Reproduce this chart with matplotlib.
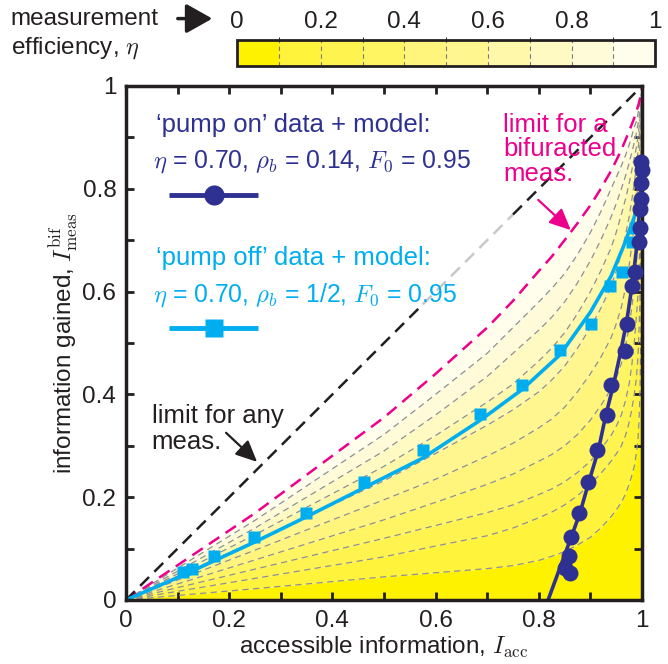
import numpy as np
import matplotlib
matplotlib.use("Agg")
import matplotlib.pyplot as plt
from matplotlib.colors import ListedColormap, BoundaryNorm
from matplotlib.cm import ScalarMappable
from matplotlib.patches import FancyArrowPatch

plt.rcParams["font.family"] = ["Liberation Sans", "DejaVu Sans"]
plt.rcParams["mathtext.fontset"] = "cm"

# iso-efficiency curves on a shared I_acc grid: eta = 0.1 ... 0.9, and eta = 1 (bifurcation limit)
iso_x = [0, .25, .5, .6, .7, .75, .8, .825, .85, .875, .9, .92, .94, .95, .96, .968,
         .975, .98, .985, .989, .992, .994, .996, .998, .999, 1]
iso_y_01 = [0, .022, .045, .053, .061, .067, .077, .085, .094, .107, .122, .14, .162,
            .175, .19, .206, .225, .241, .26, .285, .31, .345, .40, .52, .65, 1]
iso_y_02 = [0, .042, .084, .105, .125, .14, .16, .171, .185, .203, .225, .246, .27,
            .284, .30, .32, .345, .37, .40, .43, .47, .52, .58, .72, .80, 1]
iso_y_03 = [0, .06, .12, .145, .17, .185, .205, .216, .23, .248, .27, .293, .32,
            .338, .36, .388, .42, .455, .50, .55, .59, .64, .70, .81, .88, 1]
iso_y_04 = [0, .078, .156, .19, .225, .245, .27, .283, .30, .322, .35, .378, .41,
            .432, .46, .495, .53, .568, .61, .655, .70, .745, .80, .88, .93, 1]
iso_y_05 = [0, .097, .195, .235, .28, .305, .335, .352, .375, .405, .44, .472, .51,
            .537, .57, .607, .65, .688, .73, .775, .81, .845, .885, .937, .96, 1]
iso_y_06 = [0, .115, .232, .285, .34, .37, .405, .428, .455, .49, .53, .567, .61,
            .64, .675, .71, .745, .777, .81, .843, .87, .895, .92, .953, .97, 1]
iso_y_07 = [0, .127, .26, .32, .385, .42, .465, .49, .52, .557, .60, .64, .685,
            .715, .75, .78, .81, .835, .86, .88, .90, .917, .935, .962, .975, 1]
iso_y_08 = [0, .14, .29, .36, .435, .48, .525, .55, .58, .617, .66, .70, .745,
            .771, .80, .825, .85, .87, .89, .907, .925, .937, .95, .97, .98, 1]
iso_y_09 = [0, .155, .322, .40, .48, .53, .58, .606, .635, .672, .715, .755, .80,
            .822, .845, .865, .885, .902, .92, .931, .945, .955, .965, .978, .985, 1]
bif_y = [0, .169, .355, .44, .53, .582, .64, .668, .70, .733, .768, .80, .835,
         .855, .876, .895, .912, .925, .938, .95, .96, .967, .975, .985, .99, 1]

# 'pump on' data and model
pump_on_x = [.851, .860, .859, .862, .878, .895, .912, .932, .939, .967, .970,
             .980, .986, .995, .996, .997, .998, .999, 1.0, .999]
pump_on_y = [.062, .053, .086, .122, .170, .230, .292, .360, .418, .485, .537,
             .610, .639, .696, .723, .760, .781, .811, .837, .853]
pump_on_fit_x = [.818, .84, .862, .88, .897, .915, .93, .945, .958, .97, .982, .99, .996, 1.0]
pump_on_fit_y = [0, .06, .12, .17, .23, .29, .36, .42, .48, .54, .62, .69, .77, .86]

# 'pump off' data and model
pump_off_x = [.110, .128, .171, .249, .349, .462, .575, .687, .767, .841, .902,
              .938, .961, .980, .986]
pump_off_y = [.055, .060, .086, .122, .170, .230, .292, .361, .418, .486, .537,
              .610, .639, .696, .723]
pump_off_fit_x = [0, .11, .25, .35, .5, .575, .687, .767, .841, .90, .94, .965, .985, .996]
pump_off_fit_y = [0, .048, .113, .162, .238, .276, .350, .409, .477, .56, .63, .69, .745, .79]

eta_bounds = [0, .1, .2, .3, .4, .5, .6, .7, .8, .9, 1]
eta_ticks = [0, 0.2, 0.4, 0.6, 0.8, 1]
eta_tick_labels = ["0", "0.2", "0.4", "0.6", "0.8", "1"]
axis_ticks = [0, .1, .2, .3, .4, .5, .6, .7, .8, .9, 1]
axis_tick_labels = ["0", "", "0.2", "", "0.4", "", "0.6", "", "0.8", "", "1"]

band_colors = ["#fff200", "#fff33c", "#fff34f", "#fff462", "#fff57c",
               "#fff690", "#fff8aa", "#fffac2", "#fffbd9", "#fffdeb"]
TEXT = "#231f20"
ON = "#2e3192"
OFF = "#00aeef"
MAG = "#ec008c"

fig = plt.figure(figsize=(6.68, 6.64), dpi=100)
ax = fig.add_axes([0.1886, 0.0964, 0.7725, 0.7741])

curves = [iso_y_01, iso_y_02, iso_y_03, iso_y_04, iso_y_05,
          iso_y_06, iso_y_07, iso_y_08, iso_y_09, bif_y]

# shade each efficiency band between neighbouring curves
lower = [0] * len(iso_x)
for k, cy in enumerate(curves):
    ax.fill_between(iso_x, lower, cy, color=band_colors[k], lw=0, zorder=1)
    lower = cy

for cy in curves[:-1]:
    ax.plot(iso_x, cy, color="#8f8f8f", lw=0.9, dashes=(5, 3.5), zorder=2)
ax.plot(iso_x, bif_y, color=MAG, lw=1.8, dashes=(5, 3), zorder=3)

# limit for any measurement (I_meas = I_acc); faded where it runs behind the labels
ax.plot([0, .575], [0, .575], color=TEXT, lw=1.8, dashes=(5, 3), zorder=3)
ax.plot([.575, .75], [.575, .75], color="#c8c8c8", lw=1.8, dashes=(5, 3), zorder=3)
ax.plot([.75, 1], [.75, 1], color=TEXT, lw=1.8, dashes=(5, 3), zorder=3)

ax.plot(pump_off_fit_x, pump_off_fit_y, color=OFF, lw=2.6, zorder=4, solid_capstyle="butt")
ax.plot(pump_off_x, pump_off_y, "s", color=OFF, ms=8.5, mec="none", zorder=5, clip_on=False)
ax.plot(pump_on_fit_x, pump_on_fit_y, color=ON, lw=2.6, zorder=4, solid_capstyle="butt")
ax.plot(pump_on_x, pump_on_y, "o", color=ON, ms=11.5, mec="none", zorder=6, clip_on=False)

# legend text and sample lines
ax.text(.058, .924, "\u2018pump on\u2019 data + model:", color=ON, fontsize=18.5, va="center")
ax.text(.052, .852, r"$\eta$ = 0.70, $\rho_b$ = 0.14, $F_0$ = 0.95", color=ON,
        fontsize=17.8, va="center")
ax.plot([.083, .256], [.788, .788], color=ON, lw=3.5, solid_capstyle="butt", zorder=6)
ax.plot([.171], [.788], "o", color=ON, ms=14.5, mec="none", zorder=6)
ax.text(.058, .665, "\u2018pump off\u2019 data + model:", color=OFF, fontsize=18.5, va="center")
ax.text(.052, .593, r"$\eta$ = 0.70, $\rho_b$ = 1/2, $F_0$ = 0.95", color=OFF,
        fontsize=17.8, va="center")
ax.plot([.083, .256], [.529, .529], color=OFF, lw=3.5, solid_capstyle="butt", zorder=6)
ax.plot([.171], [.529], "s", color=OFF, ms=13, mec="none", zorder=6)

head = "-|>,head_length=0.65,head_width=0.3"
ax.text(.05, .333, "limit for any\nmeas.", color=TEXT, fontsize=18.5, va="center",
        linespacing=1.1)
ax.annotate("", xy=(.258, .265), xytext=(.19, .329),
            arrowprops=dict(arrowstyle=head, color=TEXT, lw=1.6, mutation_scale=20))
ax.text(.731, .877, "limit for a\nbifuracted\nmeas.", color=MAG, fontsize=18.5,
        va="center", linespacing=1.02)
ax.annotate("", xy=(.866, .716), xytext=(.795, .782),
            arrowprops=dict(arrowstyle=head, color=MAG, lw=1.6, mutation_scale=20))

ax.set_xlim(0, 1)
ax.set_ylim(0, 1)
ax.set_xticks(axis_ticks)
ax.set_xticklabels(axis_tick_labels)
ax.set_yticks(axis_ticks)
ax.set_yticklabels(axis_tick_labels)
ax.tick_params(direction="in", length=6, width=2, top=True, right=True,
               labelsize=17.5, pad=7, colors=TEXT)
for s in ax.spines.values():
    s.set_linewidth(2.5)
    s.set_color(TEXT)
    s.set_zorder(5)
ax.set_xlabel(r"accessible information, $I_{\rm acc}$", fontsize=17.5, color=TEXT, labelpad=2)
ax.set_ylabel(r"information gained, $I^{\rm bif}_{\rm meas}$", fontsize=17.5, color=TEXT,
              labelpad=2)

# efficiency colour scale
cax = fig.add_axes([0.355, 0.9006, 0.626, 0.0392])
sm = ScalarMappable(cmap=ListedColormap(band_colors),
                    norm=BoundaryNorm(eta_bounds, len(band_colors)))
cb = fig.colorbar(sm, cax=cax, orientation="horizontal", ticks=eta_ticks)
cb.ax.xaxis.set_ticks_position("top")
cb.ax.set_xticklabels(eta_tick_labels)
cb.ax.tick_params(length=0, labelsize=17.5, pad=5, colors=TEXT)
cb.outline.set_linewidth(2)
cb.outline.set_edgecolor(TEXT)
for v in eta_bounds[1:-1]:
    cax.axvline(v, color="#7a7a7a", lw=0.8, dashes=(4, 3))

fig.text(0.016, 0.972, "measurement", fontsize=17.5, color=TEXT, va="center")
fig.text(0.016, 0.927, r"efficiency, $\eta$", fontsize=17.5, color=TEXT, va="center")
fig.patches.append(FancyArrowPatch(
    (0.262, 0.972), (0.322, 0.972), transform=fig.transFigure,
    arrowstyle="-|>,head_length=0.8,head_width=0.45", color=TEXT, lw=2.5,
    mutation_scale=20))

fig.savefig("out.png", dpi=100)
